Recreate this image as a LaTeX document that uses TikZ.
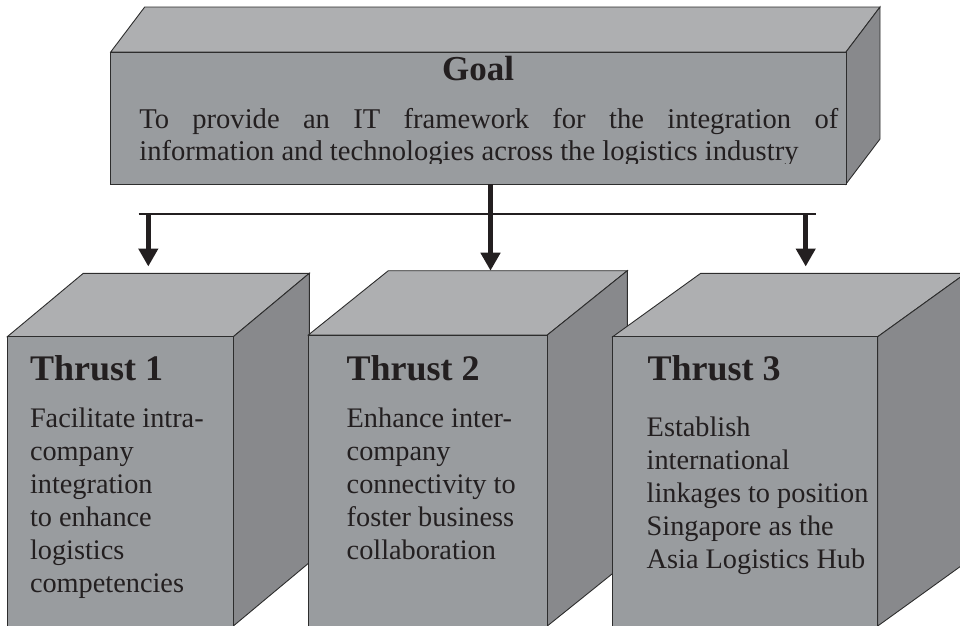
\documentclass[tikz,border=0pt]{standalone}
\usepackage{fontspec}
\setmainfont{Liberation Serif}
\usetikzlibrary{arrows.meta}
\definecolor{frontgray}{RGB}{153,156,159}
\definecolor{topgray}{RGB}{174,175,177}
\definecolor{sidegray}{RGB}{136,137,140}
\definecolor{edgecol}{RGB}{45,45,45}
\definecolor{inkcol}{RGB}{35,31,32}
\begin{document}
\begin{tikzpicture}[x=1pt,y=-1pt,
  frontface/.style={fill=frontgray, draw=edgecol, line width=0.9pt, line join=miter},
  topface/.style={fill=topgray, draw=edgecol, line width=0.9pt, line join=miter},
  sideface/.style={fill=sidegray, draw=edgecol, line width=0.9pt, line join=miter},
  bodytext/.style={anchor=base west, inner sep=0pt, outer sep=0pt, text=inkcol},
  headtext/.style={anchor=base west, inner sep=0pt, outer sep=0pt, text=inkcol, font=\bfseries\fontsize{36}{40}\selectfont},
  busline/.style={draw=inkcol, line width=2.7pt},
  downarrow/.style={draw=inkcol, line width=4.5pt, -{Triangle[length=18pt,width=19pt]}},
]
\useasboundingbox (0,0) rectangle (960,625);
\clip (0,0) rectangle (960,625);

% ---------- Goal box ----------
\fill[topface] (110.7,52) -- (144.7,7) -- (880,7) -- (846,52) -- cycle;
\fill[sideface] (846,52) -- (880,7) -- (880,139) -- (846,184) -- cycle;
\filldraw[frontface] (110.7,52) rectangle (846,184);
\node[anchor=base, inner sep=0pt, text=inkcol, font=\bfseries\fontsize{35}{40}\selectfont] (goaltitle) at (478,80.7) {Goal};
\begin{scope}
\clip (110.7,52) rectangle (846,163.5);
\node[bodytext] (goaltext) at (139.3,128.3) {\parbox[t]{699pt}{\fontsize{28.6}{31.7}\selectfont
\makebox[699pt][s]{To provide an IT framework for the integration of}\\
information and technologies across the logistics industry}};
\end{scope}

% ---------- Thrust 1 ----------
\filldraw[topface] (7.3,336.7) -- (83.3,273.3) -- (309.3,273.3) -- (233.3,336.7) -- cycle;
\filldraw[sideface] (233.3,336.7) -- (309.3,273.3) -- (309.3,562.6) -- (233.3,626) -- cycle;
\filldraw[frontface] (7.3,336.7) rectangle (233.3,626);
\node[headtext] (t1head) at (30,380) {Thrust 1};
\node[bodytext] (t1text) at (30,427) {\parbox[t]{200pt}{\raggedright\fontsize{28.3}{33}\selectfont
Facilitate intra-\\company\\integration\\to enhance\\logistics\\competencies}};

% ---------- Thrust 2 ----------
\filldraw[topface] (308.3,335) -- (388.3,270.7) -- (627.3,270.7) -- (547.3,335) -- cycle;
\filldraw[sideface] (547.3,335) -- (627.3,270.7) -- (627.3,561.7) -- (547.3,626) -- cycle;
\filldraw[frontface] (308.3,335) rectangle (547.3,626);
\node[headtext] (t2head) at (346.7,380.5) {Thrust 2};
\node[bodytext] (t2text) at (346.7,427) {\parbox[t]{200pt}{\raggedright\fontsize{28.3}{33}\selectfont
Enhance inter-\\company\\connectivity to\\foster business\\collaboration}};

% ---------- Thrust 3 ----------
\filldraw[topface] (612.7,336.7) -- (700.7,273.3) -- (965.7,273.3) -- (877.7,336.7) -- cycle;
\filldraw[sideface] (877.7,336.7) -- (965.7,273.3) -- (965.7,562.6) -- (877.7,626) -- cycle;
\filldraw[frontface] (612.7,336.7) rectangle (877.7,626);
\node[headtext] (t3head) at (647.7,380) {Thrust 3};
\node[bodytext] (t3text) at (646.7,436.7) {\parbox[t]{240pt}{\raggedright\fontsize{28.3}{33}\selectfont
Establish\\international\\linkages to position\\Singapore as the\\Asia Logistics Hub}};

% ---------- Connectors ----------
\coordinate (busL) at (138.7,214);
\coordinate (busR) at (816,214);
\coordinate (aL) at (148.3,214);
\coordinate (tL) at (148.3,266.5);
\coordinate (gB) at (490.5,184);
\coordinate (tC) at (490.5,270.7);
\coordinate (aR) at (805.7,214);
\coordinate (tR) at (805.7,266.5);
\draw[busline] (busL) -- (busR);
\draw[downarrow] (aL) -- (tL);
\draw[downarrow] (gB) -- (tC);
\draw[downarrow] (aR) -- (tR);
\end{tikzpicture}
\end{document}
